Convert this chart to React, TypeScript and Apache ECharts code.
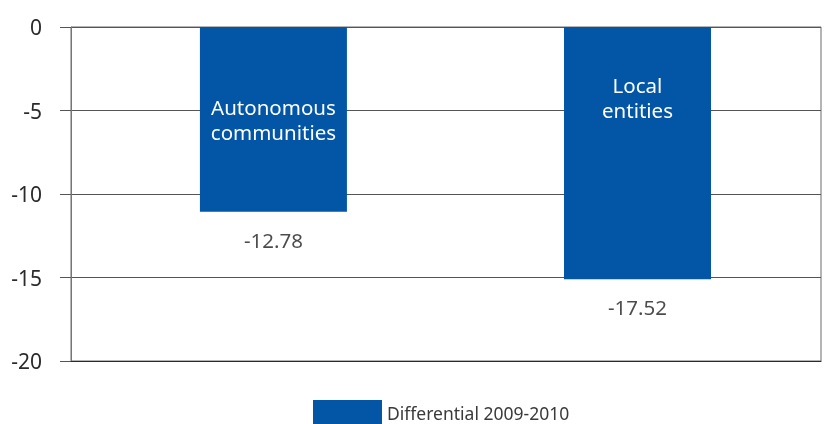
import React, { useEffect, useRef } from "react";
import * as echarts from "echarts";

const categories = ["Autonomous\ncommunities", "Local\nentities"];
const categoryPositions = [1, 2];
const barValues = [-11.06, -15.1];
const valueLabels = ["-12.78", "-17.52"];
const seriesName = "Differential 2009-2010";
const yMin = -20;
const yMax = 0;
const yInterval = 5;
const xMin = 0.444;
const xMax = 2.504;

const labelDistances = [67, 45];

export default function App() {
  const ref = useRef<HTMLDivElement>(null);
  useEffect(() => {
    if (!ref.current) return;
    const chart = echarts.init(ref.current, null, { renderer: "svg" });
    const font = "'Noto Sans', sans-serif";
    chart.setOption({
      animation: false,
      textStyle: { fontFamily: font },
      grid: {
        left: 71,
        right: 4,
        top: 27,
        bottom: 63,
        show: true,
        borderColor: "#6b6b6b",
        borderWidth: 1,
      },
      legend: {
        data: [seriesName],
        left: 308,
        top: 395,
        itemWidth: 69,
        itemHeight: 26,
        itemGap: 10,
        icon: "rect",
        textStyle: { fontFamily: font, fontSize: 17.5, color: "#3a3a3a", lineHeight: 18 },
      },
      xAxis: {
        type: "value",
        min: xMin,
        max: xMax,
        axisLine: { show: true, onZero: false, lineStyle: { color: "#2a2a2a", width: 1 } },
        axisTick: { show: false },
        axisLabel: { show: false },
        splitLine: { show: false },
      },
      yAxis: {
        type: "value",
        min: yMin,
        max: yMax,
        interval: yInterval,
        axisLine: { show: true, lineStyle: { color: "#777", width: 1 } },
        axisTick: { show: true, inside: false, length: 11, lineStyle: { color: "#555" } },
        axisLabel: { margin: 29, fontFamily: font, fontSize: 21, color: "#2a2a2a" },
        splitLine: { show: true, lineStyle: { color: "#555", width: 1 } },
      },
      series: [
        {
          name: seriesName,
          type: "bar",
          barWidth: 147,
          itemStyle: { color: "#0256a5" },
          data: barValues.map((v, i) => ({
            value: [categoryPositions[i], v],
            label: {
              show: true,
              position: "insideTop",
              distance: labelDistances[i],
              formatter: categories[i],
              color: "#fff",
              fontFamily: font,
              fontSize: 20.5,
              lineHeight: 25.5,
              align: "center",
            },
          })),
        },
        {
          name: "values",
          type: "scatter",
          symbolSize: 0,
          silent: true,
          data: barValues.map((v, i) => [categoryPositions[i], v]),
          label: {
            show: true,
            position: "bottom",
            distance: 16,
            formatter: (p: any) => valueLabels[p.dataIndex],
            color: "#1e1e1e",
            fontFamily: font,
            fontSize: 20.5,
            lineHeight: 24,
          },
        },
      ],
    });
    return () => chart.dispose();
  }, []);
  return (
    <div
      ref={ref}
      style={{ position: "fixed", left: 0, top: 0, width: 825, height: 424 }}
    />
  );
}
